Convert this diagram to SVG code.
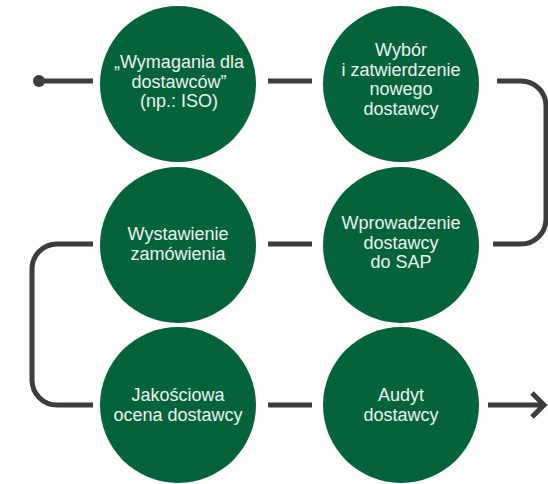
<svg xmlns="http://www.w3.org/2000/svg" width="548" height="484" viewBox="0 0 548 484">
<style>
.n{fill:#04633b}
.t{font-family:"Liberation Sans",Arial,sans-serif;font-size:18px;fill:#eef2ef;text-anchor:middle}
.c{fill:none;stroke:#3d3d3d;stroke-width:5}
</style>
<rect width="548" height="484" fill="#ffffff"/>
<g id="connectors">
<circle cx="39" cy="81" r="6" fill="#3d3d3d"/>
<path class="c" d="M39,81 H93"/>
<path class="c" d="M268,81 H312"/>
<path class="c" d="M497,81 H521 A25,25 0 0 1 546,106 V219 A25,25 0 0 1 521,244 H493"/>
<path class="c" d="M268,244 H312"/>
<path class="c" d="M93,244 H57 A25,25 0 0 0 32,269 V380 A25,25 0 0 0 57,405 H93"/>
<path class="c" d="M268,405 H312"/>
<path class="c" d="M488,405 H543"/>
<path class="c" d="M532,393 L544,405 L532,417"/>
</g>
<g id="n1">
<circle class="n" cx="178" cy="84" r="78"/>
<text class="t" x="179" y="68">„Wymagania dla</text>
<text class="t" x="179" y="88">dostawców”</text>
<text class="t" x="179" y="107">(np.: ISO)</text>
</g>
<g id="n2">
<circle class="n" cx="401" cy="84" r="78"/>
<text class="t" x="401" y="56">Wybór</text>
<text class="t" x="401" y="75.5">i zatwierdzenie</text>
<text class="t" x="401" y="95">nowego</text>
<text class="t" x="401" y="114.5">dostawcy</text>
</g>
<g id="n3">
<circle class="n" cx="401" cy="245" r="78"/>
<text class="t" x="401" y="229">Wprowadzenie</text>
<text class="t" x="401" y="249">dostawcy</text>
<text class="t" x="401" y="268">do SAP</text>
</g>
<g id="n4">
<circle class="n" cx="178" cy="245" r="78"/>
<text class="t" x="178" y="240">Wystawienie</text>
<text class="t" x="178" y="260">zamówienia</text>
</g>
<g id="n5">
<circle class="n" cx="178" cy="405" r="78"/>
<text class="t" x="178" y="401">Jakościowa</text>
<text class="t" x="178" y="421">ocena dostawcy</text>
</g>
<g id="n6">
<circle class="n" cx="401" cy="405" r="78"/>
<text class="t" x="401" y="401">Audyt</text>
<text class="t" x="401" y="421">dostawcy</text>
</g>
</svg>
